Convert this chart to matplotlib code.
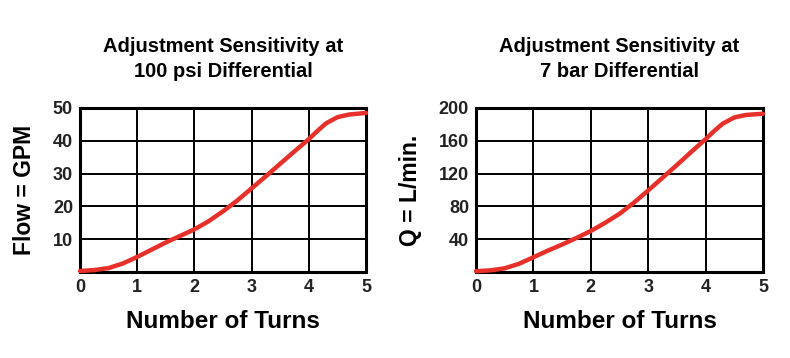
import matplotlib
matplotlib.use("Agg")
import matplotlib.pyplot as plt

plt.rcParams['font.family'] = ['Liberation Sans Narrow', 'Liberation Sans', 'DejaVu Sans']

# turns of adjustment screw
turns = [0, 0.25, 0.5, 0.75, 1.0, 1.25, 1.5, 1.75, 2.0, 2.25, 2.5, 2.75, 3.0, 3.25, 3.5, 3.75, 4.0, 4.15, 4.3, 4.5, 4.7, 5.0]
# flow at 100 psi, GPM
flow_gpm = [0.3, 0.6, 1.2, 2.6, 4.6, 6.8, 9.0, 11.0, 13.0, 15.5, 18.5, 21.8, 25.5, 29.2, 33.0, 36.8, 40.5, 43.0, 45.3, 47.2, 48.0, 48.5]
# flow at 7 bar, L/min
flow_lpm = [1.0, 2.0, 4.5, 10.0, 18.0, 26.0, 33.5, 41.5, 50.0, 60.0, 71.0, 84.5, 99.5, 115.0, 130.5, 146.5, 162.0, 172.0, 181.0, 188.5, 191.5, 193.0]

titles = ["Adjustment Sensitivity at\n100 psi Differential",
          "Adjustment Sensitivity at\n7 bar Differential"]
ylabels = ["Flow = GPM", "Q = L/min."]
yticks = [[10, 20, 30, 40, 50], [40, 80, 120, 160, 200]]
ymax = [50, 200]

fig = plt.figure(figsize=(7.9, 3.58), dpi=100)
W, H = 790, 358
boxes = [(80, 108, 286, 164), (476, 108, 287, 164)]

for i, (x0, y0, w, h) in enumerate(boxes):
    ax = fig.add_axes([x0 / W, 1 - (y0 + h) / H, w / W, h / H])
    y = flow_gpm if i == 0 else flow_lpm
    ax.plot(turns, y, color="#e8302a", lw=3.2, solid_capstyle="round", zorder=3, clip_on=False)
    ax.set_xlim(0, 5)
    ax.set_ylim(0, ymax[i])
    ax.set_xticks(range(6))
    ax.set_yticks(yticks[i])
    ax.grid(True, color="black", lw=1.4)
    for s in ax.spines.values():
        s.set_linewidth(2.2)
    ax.tick_params(length=0, labelsize=13, colors="#222222", pad=5)
    for lab in ax.get_xticklabels() + ax.get_yticklabels():
        lab.set_fontweight("bold")
    ax.set_xlabel("Number of Turns", fontsize=17.5, fontweight="bold", labelpad=10)
    ax.set_ylabel(ylabels[i], fontsize=16.5, fontweight="bold", labelpad=12)
    ax.set_title(titles[i], fontsize=14.5, fontweight="bold", pad=22, linespacing=1.45)

fig.savefig("out.png", dpi=100, facecolor="white")
